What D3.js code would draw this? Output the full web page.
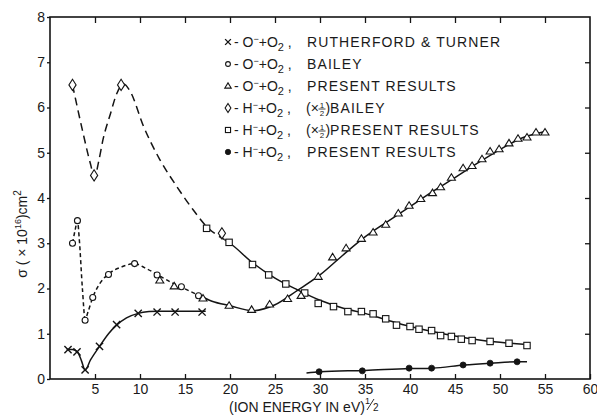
<!DOCTYPE html>
<html>
<head>
<meta charset="utf-8">
<script src="https://cdn.jsdelivr.net/npm/d3@7"></script>
<style>
  html, body { margin: 0; padding: 0; background: #fff; }
  svg { display: block; }
  text { font-family: "Liberation Sans", Arial, sans-serif; fill: #1a1a1a; }
</style>
</head>
<body>
<svg id="chart" width="597" height="420"></svg>
<script>
// ---------------- data ----------------
const xTicks = [5, 10, 15, 20, 25, 30, 35, 40, 45, 50, 55, 60];
const yTicks = [0, 1, 2, 3, 4, 5, 6, 7, 8];

// O- + O2, Rutherford & Turner (crosses)
const rtX = [2.0, 3.0, 3.9, 5.5, 7.4, 9.8, 11.9, 13.9, 16.9];
const rtY = [0.65, 0.60, 0.20, 0.72, 1.20, 1.45, 1.48, 1.48, 1.48];
const rtCurveX = [1.85, 2.5, 3.05, 3.5, 3.9, 4.5, 5.5, 6.5, 7.4, 8.5, 9.8, 11.0, 12.0, 14.0, 17.3];
const rtCurveY = [0.66, 0.65, 0.60, 0.40, 0.20, 0.42, 0.72, 1.00, 1.19, 1.35, 1.45, 1.49, 1.50, 1.50, 1.50];

// O- + O2, Bailey (open circles)
const baileyOX = [2.5, 3.05, 3.9, 4.75, 6.5, 9.4, 11.9, 14.6, 16.5];
const baileyOY = [3.0, 3.5, 1.3, 1.8, 2.31, 2.55, 2.30, 2.04, 1.84];
const baileyOCurveX = [2.5, 2.8, 3.05, 3.25, 3.6, 3.9, 4.25, 4.75, 5.5, 6.5, 8.0, 9.4, 10.5, 12.0, 13.5, 14.6, 16.5];
const baileyOCurveY = [3.0, 3.3, 3.5, 3.1, 2.0, 1.32, 1.5, 1.8, 2.1, 2.32, 2.48, 2.55, 2.46, 2.30, 2.13, 2.03, 1.85];

// O- + O2, present results (triangles)
const presOX = [12.2, 13.8, 17.0, 19.9, 22.4, 24.4, 26.4, 27.9, 29.8, 31.4, 32.9, 34.6, 35.9, 37.3, 38.7, 39.9, 41.2, 42.5, 43.4, 44.6, 45.9, 46.9, 48.0, 48.9, 49.9, 51.0, 52.0, 53.0, 54.0, 55.0];
const presOY = [2.18, 2.05, 1.78, 1.62, 1.53, 1.65, 1.77, 1.84, 2.26, 2.69, 2.89, 3.10, 3.24, 3.41, 3.66, 3.83, 3.98, 4.11, 4.24, 4.45, 4.66, 4.71, 4.86, 5.03, 5.08, 5.21, 5.31, 5.34, 5.45, 5.45];
const presOCurveX = [16.5, 18.0, 20.0, 22.5, 25.0, 27.5, 30.0, 32.5, 35.0, 37.5, 40.0, 42.5, 45.0, 47.5, 50.0, 52.5, 55.0];
const presOCurveY = [1.85, 1.72, 1.62, 1.51, 1.64, 1.96, 2.30, 2.73, 3.14, 3.48, 3.81, 4.14, 4.45, 4.77, 5.07, 5.33, 5.47];

// H- + O2, (x1/2) Bailey (diamonds)
const baileyHX = [2.5, 4.9, 7.9, 19.1];
const baileyHY = [6.5, 4.5, 6.5, 3.22];
const baileyHCurveX = [2.5, 3.6, 4.5, 4.95, 5.4, 5.9, 6.7, 7.4, 8.2, 8.9, 10.4, 12.2, 14.1, 15.9, 17.4, 19.4];
const baileyHCurveY = [6.5, 5.5, 4.75, 4.45, 4.8, 5.3, 5.85, 6.3, 6.52, 6.36, 5.58, 4.85, 4.25, 3.74, 3.37, 3.08];

// H- + O2, (x1/2) present results (squares)
const presHX = [17.4, 19.9, 22.5, 24.3, 26.2, 28.3, 29.8, 31.5, 33.1, 34.6, 35.9, 37.3, 38.5, 40.0, 41.0, 42.4, 43.4, 44.6, 45.7, 46.9, 48.9, 51.0, 53.0];
const presHY = [3.33, 3.02, 2.53, 2.30, 2.10, 1.90, 1.67, 1.60, 1.49, 1.49, 1.44, 1.33, 1.19, 1.16, 1.10, 1.07, 0.96, 0.94, 0.88, 0.85, 0.83, 0.79, 0.74];
const presHCurveX = [19.4, 20.0, 22.5, 25.0, 27.5, 30.0, 32.5, 35.0, 37.5, 40.0, 42.5, 45.0, 47.5, 50.0, 53.0];
const presHCurveY = [3.08, 3.00, 2.57, 2.23, 1.97, 1.74, 1.57, 1.45, 1.30, 1.16, 1.05, 0.95, 0.87, 0.81, 0.76];

// H- + O2, present results (filled dots)
const dotX = [29.9, 34.7, 39.9, 42.4, 45.9, 48.9, 51.9];
const dotY = [0.16, 0.18, 0.24, 0.24, 0.31, 0.35, 0.38];
const dotCurveX = [28.5, 30.0, 35.0, 40.0, 42.5, 46.0, 49.0, 52.0, 53.0];
const dotCurveY = [0.13, 0.16, 0.19, 0.23, 0.24, 0.31, 0.35, 0.38, 0.38];

const legendRows = [
  { marker: "cross",    ion: "O", desc: "RUTHERFORD & TURNER", half: false },
  { marker: "circle",   ion: "O", desc: "BAILEY", half: false },
  { marker: "triangle", ion: "O", desc: "PRESENT RESULTS", half: false },
  { marker: "diamond",  ion: "H", desc: "BAILEY", half: true },
  { marker: "square",   ion: "H", desc: "PRESENT RESULTS", half: true },
  { marker: "dot",      ion: "H", desc: "PRESENT RESULTS", half: false }
];

// ---------------- drawing ----------------
const ink = "#141414";
const svg = d3.select("#chart");
const x = d3.scaleLinear().domain([0, 60]).range([50, 590]);
const y = d3.scaleLinear().domain([0, 8]).range([379, 17]);

const zip = (xs, ys) => xs.map((v, i) => [v, ys[i]]);

// frame
svg.append("rect").attr("x", x(0)).attr("y", y(8)).attr("width", x(60) - x(0)).attr("height", y(0) - y(8))
  .attr("fill", "none").attr("stroke", ink).attr("stroke-width", 1.6);

// axes
const axB = svg.append("g").attr("transform", `translate(0,${y(0)})`)
  .call(d3.axisBottom(x).tickValues(xTicks).tickSize(-5).tickPadding(3).tickFormat(d3.format("d")));
const axT = svg.append("g").attr("transform", `translate(0,${y(8)})`)
  .call(d3.axisTop(x).tickValues(xTicks.filter(v => v < 60)).tickSize(-6).tickFormat(""));
const axL = svg.append("g").attr("transform", `translate(${x(0)},0)`)
  .call(d3.axisLeft(y).tickValues(yTicks).tickSize(3).tickPadding(2).tickFormat(d3.format("d")));
const axR = svg.append("g").attr("transform", `translate(${x(60)},0)`)
  .call(d3.axisRight(y).tickValues(yTicks.filter(v => v > 0 && v < 8)).tickSize(-5).tickFormat(""));
[axB, axT, axL, axR].forEach(g => {
  g.select(".domain").remove();
  g.selectAll(".tick line").attr("stroke", ink).attr("stroke-width", 1.3);
  g.selectAll(".tick text").attr("fill", ink).style("font-size", "14px").style("font-family", "'Liberation Sans', Arial, sans-serif");
});
axB.selectAll(".tick text").attr("dy", "0.85em");

// curves
const line = d3.line().x(d => x(d[0])).y(d => y(d[1])).curve(d3.curveMonotoneX);
function curve(xs, ys, dash) {
  svg.append("path").attr("d", line(zip(xs, ys))).attr("fill", "none")
    .attr("stroke", ink).attr("stroke-width", 1.5).attr("stroke-dasharray", dash || null);
}
curve(rtCurveX, rtCurveY);
curve(baileyOCurveX, baileyOCurveY, "4,3");
curve(presOCurveX, presOCurveY);
curve(baileyHCurveX, baileyHCurveY, "8,5");
curve(presHCurveX, presHCurveY);
curve(dotCurveX, dotCurveY);

// markers
function marker(g, type, cx, cy, s) {
  s = s || 1;
  let el;
  if (type === "cross") {
    const h = 3.6 * s;
    g.append("path").attr("d", `M${cx - h},${cy - h}L${cx + h},${cy + h}M${cx - h},${cy + h}L${cx + h},${cy - h}`)
      .attr("stroke", ink).attr("stroke-width", 1.4).attr("fill", "none");
    return;
  } else if (type === "circle") {
    el = g.append("circle").attr("cx", cx).attr("cy", cy).attr("r", 3 * s);
  } else if (type === "triangle") {
    const w = 4 * s, h = 6.5 * s;
    el = g.append("path").attr("d", `M${cx},${cy - h * 0.6}L${cx + w},${cy + h * 0.4}L${cx - w},${cy + h * 0.4}Z`);
  } else if (type === "diamond") {
    const w = 3.6 * s, h = 5.6 * s;
    el = g.append("path").attr("d", `M${cx},${cy - h}L${cx + w},${cy}L${cx},${cy + h}L${cx - w},${cy}Z`);
  } else if (type === "square") {
    const h = 3.2 * s;
    el = g.append("rect").attr("x", cx - h).attr("y", cy - h).attr("width", 2 * h).attr("height", 2 * h);
  } else if (type === "dot") {
    g.append("circle").attr("cx", cx).attr("cy", cy).attr("r", 3 * s)
      .attr("fill", ink).attr("stroke", ink).attr("stroke-width", 0.8);
    return;
  }
  el.attr("stroke", ink).attr("stroke-width", 1.1).attr("fill", "#fff");
}
const mk = svg.append("g");
zip(baileyHX, baileyHY).forEach(d => marker(mk, "diamond", x(d[0]), y(d[1])));
zip(presHX, presHY).forEach(d => marker(mk, "square", x(d[0]), y(d[1])));
zip(baileyOX, baileyOY).forEach(d => marker(mk, "circle", x(d[0]), y(d[1])));
zip(presOX, presOY).forEach(d => marker(mk, "triangle", x(d[0]), y(d[1])));
zip(rtX, rtY).forEach(d => marker(mk, "cross", x(d[0]), y(d[1])));
zip(dotX, dotY).forEach(d => marker(mk, "dot", x(d[0]), y(d[1])));

// legend
const lg = svg.append("g");
legendRows.forEach((r, i) => {
  const yy = 42 + i * 22;
  marker(lg, r.marker, 228, yy, r.marker === "dot" ? 0.9 : 0.8);
  const t = lg.append("text").attr("x", 234).attr("y", yy + 5).style("font-size", "14px");
  t.append("tspan").text("- " + r.ion);
  t.append("tspan").attr("dy", -5).style("font-size", "9px").text("\u2212");
  t.append("tspan").attr("dy", 5).text("+O");
  t.append("tspan").attr("dy", 4).style("font-size", "11px").text("2");
  t.append("tspan").attr("dy", -4).text(" ,");
  if (r.half) {
    lg.append("text").attr("x", 306).attr("y", yy + 5).style("font-size", "14px").text("(\u00d7");
    lg.append("text").attr("x", 322).attr("y", yy - 0.5).attr("text-anchor", "middle").style("font-size", "8px").text("1");
    lg.append("line").attr("x1", 318.5).attr("x2", 325.5).attr("y1", yy + 1).attr("y2", yy + 1).attr("stroke", ink).attr("stroke-width", 0.8);
    lg.append("text").attr("x", 322).attr("y", yy + 8).attr("text-anchor", "middle").style("font-size", "8px").text("2");
    lg.append("text").attr("x", 325.5).attr("y", yy + 5).style("font-size", "14px").text(")");
    lg.append("text").attr("x", 330).attr("y", yy + 5).style("font-size", "14px").style("letter-spacing", "1.1px").text(r.desc);
  } else {
    lg.append("text").attr("x", 307).attr("y", yy + 5).style("font-size", "14px").style("letter-spacing", "1.1px").text(r.desc);
  }
});

// axis titles
svg.append("text").attr("x", 229).attr("y", 412).style("font-size", "14px").text("(ION ENERGY IN eV)");
svg.append("text").attr("x", 365).attr("y", 404).style("font-size", "9px").text("1");
svg.append("line").attr("x1", 367).attr("x2", 374).attr("y1", 410).attr("y2", 399).attr("stroke", ink).attr("stroke-width", 0.9);
svg.append("text").attr("x", 373).attr("y", 411).style("font-size", "10px").text("2");

const yt = svg.append("text").attr("transform", "translate(27,234) rotate(-90)").attr("text-anchor", "middle").style("font-size", "14px");
yt.append("tspan").text("\u03c3 ( \u00d7 10");
yt.append("tspan").attr("dy", -6).style("font-size", "9px").text("16");
yt.append("tspan").attr("dy", 6).text(")cm");
yt.append("tspan").attr("dy", -6).style("font-size", "10px").text("2");
</script>
</body>
</html>
